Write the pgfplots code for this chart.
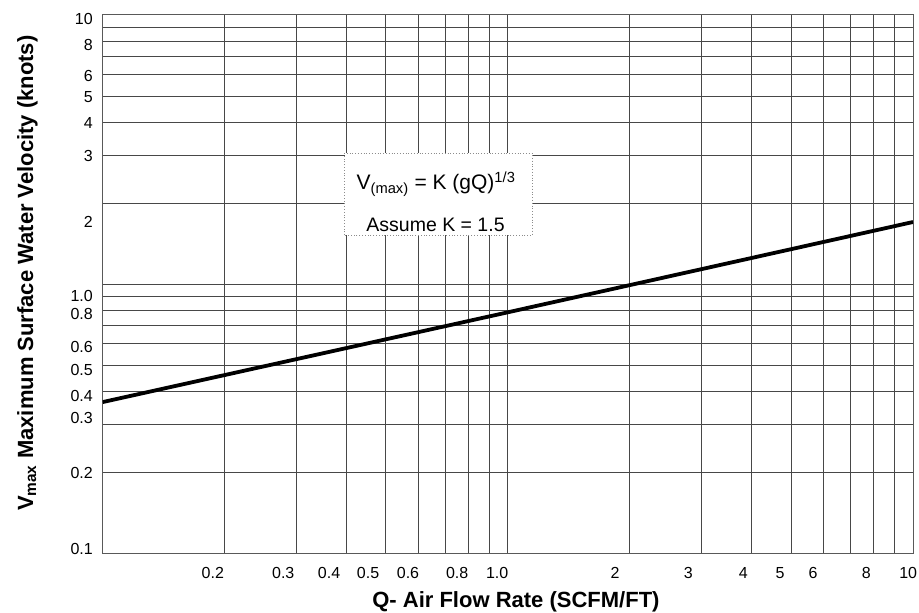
\documentclass[border=0pt]{standalone}
\usepackage{fontspec}
\setmainfont{Liberation Sans}
\usepackage{pgfplots}
\pgfplotsset{compat=1.18}
\begin{document}
\begin{tikzpicture}
\path[use as bounding box] (0,0) rectangle (919pt,613pt);
\begin{axis}[
  at={(102.7pt,60pt)}, anchor=south west,
  scale only axis, width=810.3pt, height=538pt,
  xmode=log, ymode=log,
  xmin=0.1, xmax=10, ymin=0.1, ymax=10,
  axis line style={black!65, line width=1pt},
  xtick={0.187,0.279,0.362,0.452,0.567,0.750,0.941,1.84,2.79,3.81,4.70,5.67,7.67,9.73},
  xticklabels={0.2,0.3,0.4,0.5,0.6,0.8,1.0,2,3,4,5,6,8,10},
  ytick={0.1035,0.198,0.318,0.383,0.479,0.583,0.773,0.902,1.70,2.99,3.97,4.96,5.93,7.74,9.66},
  yticklabels={0.1,0.2,0.3,0.4,0.5,0.6,0.8,1.0,2,3,4,5,6,8,10},
  minor xtick={0.2,0.3,0.4,0.5,0.6,0.7,0.8,0.9,1,2,3,4,5,6,7,8,9},
  minor ytick={0.2,0.3,0.4,0.5,0.6,0.7,0.8,0.9,1,2,3,4,5,6,7,8,9},
  major tick length=0pt, minor tick length=0pt,
  xminorgrids, yminorgrids,
  minor grid style={black!72, line width=0.9pt},
  xticklabel style={anchor=center, yshift=-20pt, font=\fontsize{16}{17}\selectfont},
  yticklabel style={anchor=east, inner sep=0pt, xshift=-9.7pt, font=\fontsize{16}{17}\selectfont},
  xlabel={Q- Air Flow Rate (SCFM/FT)},
  xlabel style={at={(axis description cs:0.51,-0.1022)}, anchor=base, font=\bfseries\fontsize{22}{24}\selectfont},
  ylabel={V\textsubscript{max} Maximum Surface Water Velocity (knots)},
  ylabel style={at={(axis description cs:-0.086,0.520)}, anchor=base, font=\bfseries\fontsize{22}{24}\selectfont},
]
\addplot[black, line width=3.8pt] coordinates {(0.1,0.364) (1,0.785) (10,1.70)};
\draw[fill=white, draw=black!45, dotted, line width=0.8pt] (axis cs:0.396,1.52) rectangle (axis cs:1.148,3.07);
\node[anchor=base, inner sep=0pt, font=\fontsize{21}{24}\selectfont] at (axis cs:0.665,2.236) {V\textsubscript{(max)} = K (gQ)\textsuperscript{1/3}};
\node[anchor=base, inner sep=0pt, font=\fontsize{19.5}{22}\selectfont] at (axis cs:0.663,1.561) {Assume K = 1.5};
\end{axis}
\end{tikzpicture}
\end{document}
